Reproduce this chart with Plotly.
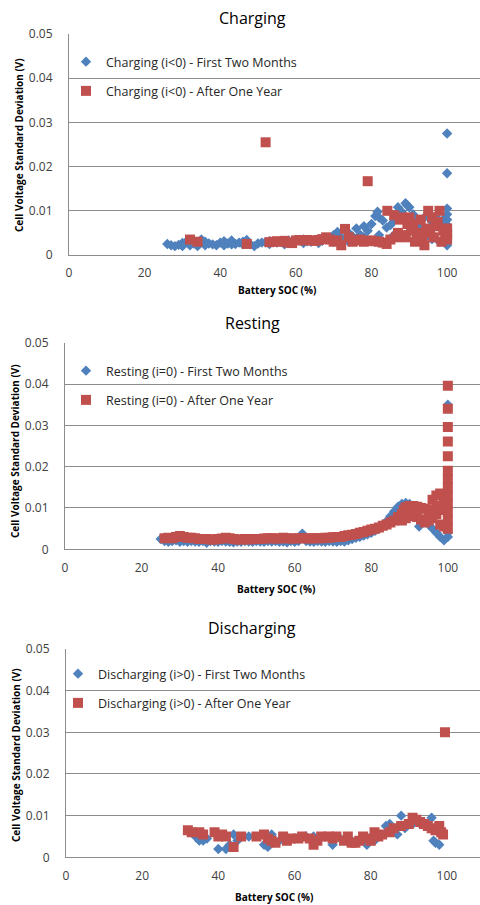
import plotly.graph_objects as go

# ---------------- DATA ----------------
titles = ["Charging", "Resting", "Discharging"]
names_first = ["Charging (i<0) - First Two Months", "Resting (i=0) - First Two Months",
               "Discharging (i>0) - First Two Months"]
names_year = ["Charging (i<0) - After One Year", "Resting (i=0) - After One Year",
              "Discharging (i>0) - After One Year"]
x_title = "Battery SOC (%)"
y_title = "Cell Voltage Standard Deviation (V)"
x_ticks = [0, 20, 40, 60, 80, 100]
y_ticks = [0, 0.01, 0.02, 0.03, 0.04, 0.05]
y_ticklabels = ["0", "0.01", "0.02", "0.03", "0.04", "0.05"]

# Charging - first two months
cb_x = [26, 27, 28, 29, 30, 31, 32, 33, 34, 35, 36, 37, 38, 39, 40, 41, 42, 43, 44, 45, 46, 47, 48,
        49, 50, 51, 52, 53, 54, 55, 56, 57, 58, 59, 60, 61, 62, 63, 64, 65, 66, 67, 68, 69,
        30, 32, 36, 41, 43, 46, 53, 57, 62, 66,
        70, 71, 72, 73, 74, 75, 76, 77, 78, 79, 80, 81, 81.6, 82, 83, 84, 85, 86, 87, 88, 89, 89.5,
        90, 91, 92, 93, 94, 95, 96, 97, 98, 99,
        70, 72, 74, 76, 78, 80, 82, 84, 86, 88, 90, 92, 94, 96, 98,
        100, 100, 100, 100, 100, 100, 100, 100, 100, 100]
cb_y = [0.0025, 0.0022, 0.0020, 0.0023, 0.0027, 0.0030, 0.0022, 0.0026, 0.0020, 0.0035, 0.0030,
        0.0026, 0.0024, 0.0022, 0.0028, 0.0031, 0.0026, 0.0033, 0.0025, 0.0028, 0.0024, 0.0034, 0.0024,
        0.0020, 0.0026, 0.0028, 0.0029, 0.0031, 0.0030, 0.0028, 0.0031, 0.0029, 0.0033, 0.0030, 0.0031,
        0.0034, 0.0035, 0.0031, 0.0030, 0.0033, 0.0034, 0.0032, 0.0036, 0.0038,
        0.0020, 0.0030, 0.0022, 0.0022, 0.0024, 0.0030, 0.0025, 0.0024, 0.0027, 0.0027,
        0.0045, 0.0052, 0.0040, 0.0036, 0.0050, 0.0042, 0.0060, 0.0046, 0.0065, 0.0055, 0.0070, 0.0088,
        0.0098, 0.0085, 0.0078, 0.0062, 0.0068, 0.0080, 0.0108, 0.0098, 0.0117, 0.0112,
        0.0108, 0.0092, 0.0078, 0.0065, 0.0085, 0.0095, 0.0075, 0.0088, 0.0065, 0.0080,
        0.0030, 0.0026, 0.0030, 0.0032, 0.0040, 0.0032, 0.0045, 0.0030, 0.0046, 0.0042, 0.0052, 0.0032,
        0.0040, 0.0036, 0.0030,
        0.0275, 0.0185, 0.0105, 0.0092, 0.0080, 0.0068, 0.0055, 0.0042, 0.0030, 0.0022]

# Charging - after one year
cr_x = [32, 34, 47, 52, 53, 54, 55, 56, 57, 58, 59, 60, 61, 62, 63, 64, 65, 66, 67, 68, 69, 70, 71,
        72, 73, 74, 75, 76, 77, 78, 79, 79.5, 80, 81, 82, 83, 84, 84.2, 85, 86, 86.5, 87, 87.5, 88,
        88.5, 89, 89.5, 90, 90.5, 91, 91.5, 92, 92.5, 93, 93.5, 94, 94.5, 95, 95.5, 96, 96.5, 97,
        97.5, 98, 98.5, 99, 99.5, 100, 100, 100, 100]
cr_y = [0.0035, 0.0030, 0.0025, 0.0255, 0.0029, 0.0030, 0.0031, 0.0030, 0.0032, 0.0028, 0.0027,
        0.0033, 0.0034, 0.0033, 0.0034, 0.0033, 0.0032, 0.0034, 0.0036, 0.0040, 0.0035, 0.0030, 0.0033,
        0.0022, 0.0059, 0.0040, 0.0030, 0.0033, 0.0035, 0.0030, 0.0167, 0.0032, 0.0033, 0.0031, 0.0030,
        0.0028, 0.0025, 0.0100, 0.0035, 0.0090, 0.0040, 0.0050, 0.0080, 0.0085,
        0.0045, 0.0040, 0.0070, 0.0085, 0.0055, 0.0070, 0.0030, 0.0035, 0.0050, 0.0080, 0.0040,
        0.0022, 0.0060, 0.0100, 0.0050, 0.0085, 0.0040, 0.0065,
        0.0075, 0.0100, 0.0030, 0.0055, 0.0045, 0.0060, 0.0045, 0.0035, 0.0050]

# Resting - first two months
rb_x = [25, 26, 27, 28, 29, 30, 31, 32, 33, 34, 35, 36, 37, 38, 39, 40, 41, 42, 43, 44, 45, 46, 47,
        48, 49, 50, 51, 52, 53, 54, 55, 56, 57, 58, 59, 60, 61, 62, 63, 64, 65, 66, 67, 68, 69, 70,
        71, 72, 73, 74, 75, 76, 77, 78, 79, 80, 81, 82, 83, 84, 85, 86, 87, 88, 89, 90, 91, 92, 92.5,
        93, 94, 95, 96, 97, 98, 99, 100, 100, 100]
rb_y = [0.0025, 0.0020, 0.0018, 0.0020, 0.0022, 0.0018, 0.0020, 0.0018, 0.0020, 0.0019, 0.0018,
        0.0020, 0.0016, 0.0020, 0.0019, 0.0018, 0.0020, 0.0019, 0.0018, 0.0017, 0.0019, 0.0018, 0.0020,
        0.0019, 0.0018, 0.0020, 0.0019, 0.0018, 0.0020, 0.0019, 0.0020, 0.0018, 0.0019, 0.0017, 0.0020,
        0.0018, 0.0020, 0.0038, 0.0020, 0.0019, 0.0018, 0.0020, 0.0019, 0.0018, 0.0020, 0.0019,
        0.0018, 0.0020, 0.0019, 0.0022, 0.0025, 0.0028, 0.0030, 0.0033, 0.0036, 0.0040, 0.0045, 0.0050,
        0.0058, 0.0068, 0.0080, 0.0092, 0.0103, 0.0110, 0.0112, 0.0110, 0.0105, 0.0085, 0.0055,
        0.0065, 0.0068, 0.0060, 0.0050, 0.0040, 0.0030, 0.0022, 0.0030, 0.0040, 0.0350]

# Resting - after one year
rr_x = [26, 27, 28, 29, 30, 31, 32, 33, 34, 35, 36, 37, 38, 39, 40, 41, 42, 43, 44, 45, 46, 47, 48,
        49, 50, 51, 52, 53, 54, 55, 56, 57, 58, 59, 60, 61, 62, 63, 64, 65, 66, 67, 68, 69, 70, 71,
        72, 73, 74, 75, 76, 77, 78, 79, 80, 81, 82, 83, 84, 85, 86, 87, 88, 88.5, 89, 90, 91, 92, 93,
        94, 95, 96, 97, 98, 99,
        88, 89, 90, 91, 92, 93, 94, 95, 96, 97, 98, 99, 96, 97, 95, 99, 98,
        100, 100, 100, 100, 100, 100, 100, 100, 100, 100, 100, 100, 100]
rr_y = [0.0027, 0.0028, 0.0027, 0.0030, 0.0032, 0.0030, 0.0028, 0.0028, 0.0027, 0.0025, 0.0025,
        0.0025, 0.0024, 0.0024, 0.0025, 0.0026, 0.0028, 0.0027, 0.0025, 0.0024, 0.0024, 0.0025, 0.0024,
        0.0025, 0.0025, 0.0025, 0.0026, 0.0027, 0.0027, 0.0026, 0.0026, 0.0028, 0.0027, 0.0026, 0.0026,
        0.0027, 0.0027, 0.0027, 0.0026, 0.0027, 0.0027, 0.0027, 0.0028, 0.0028, 0.0029, 0.0030,
        0.0030, 0.0032, 0.0034, 0.0035, 0.0037, 0.0040, 0.0042, 0.0045, 0.0048, 0.0050, 0.0053, 0.0057,
        0.0060, 0.0065, 0.0070, 0.0078, 0.0085, 0.0095, 0.0102, 0.0105, 0.0105, 0.0103, 0.0100,
        0.0098, 0.0095, 0.0120, 0.0130, 0.0135, 0.0125,
        0.0070, 0.0075, 0.0080, 0.0085, 0.0078, 0.0072, 0.0065, 0.0070, 0.0075, 0.0085, 0.0060,
        0.0055, 0.0095, 0.0105, 0.0085, 0.0095, 0.0105,
        0.0050, 0.0070, 0.0090, 0.0110, 0.0130, 0.0150, 0.0170, 0.0190, 0.0225, 0.0261, 0.0296,
        0.0340, 0.0396]

# Discharging - first two months
db_x = [33, 34, 35, 36, 37, 40, 42, 43, 44, 45, 48, 52, 53, 54, 56, 60, 63, 65, 70, 72, 75, 79, 81,
        84, 85, 87, 88, 89, 91, 93, 96, 96.5, 97, 98]
db_y = [0.0060, 0.0050, 0.0040, 0.0040, 0.0045, 0.0020, 0.0020, 0.0030, 0.0055, 0.0040, 0.0050,
        0.0030, 0.0025, 0.0055, 0.0040, 0.0045, 0.0050, 0.0050, 0.0030, 0.0045, 0.0040, 0.0030, 0.0040,
        0.0075, 0.0080, 0.0055, 0.0100, 0.0070, 0.0080, 0.0080, 0.0095, 0.0040, 0.0035, 0.0030]

# Discharging - after one year
dr_x = [32, 33, 35, 36, 39, 40, 41, 42, 44, 46, 50, 52, 53, 54, 55, 57, 58, 59, 61, 62, 64, 65, 66,
        67, 69, 70, 71, 73, 74, 75, 76, 77, 78, 79, 80, 81, 82, 83, 85, 86, 88, 90, 91, 92, 93, 94,
        95, 96, 97, 98, 98.5, 99, 99.5]
dr_y = [0.0065, 0.0060, 0.0060, 0.0055, 0.0060, 0.0050, 0.0055, 0.0050, 0.0025, 0.0050, 0.0050,
        0.0055, 0.0045, 0.0040, 0.0035, 0.0050, 0.0040, 0.0045, 0.0045, 0.0050, 0.0045, 0.0030, 0.0040,
        0.0050, 0.0050, 0.0045, 0.0050, 0.0040, 0.0050, 0.0035, 0.0035, 0.0040, 0.0050, 0.0045, 0.0040,
        0.0060, 0.0050, 0.0055, 0.0060, 0.0070, 0.0075, 0.0080, 0.0095, 0.0090, 0.0085, 0.0080,
        0.0075, 0.0070, 0.0065, 0.0075, 0.0060, 0.0055, 0.0300]

first_series = [(cb_x, cb_y), (rb_x, rb_y), (db_x, db_y)]
year_series = [(cr_x, cr_y), (rr_x, rr_y), (dr_x, dr_y)]

# ---------------- LAYOUT (pixel geometry) ----------------
W, H = 480, 905
FONT = "Open Sans"
BLUE = "#4F81BD"
RED = "#C0504D"
GRID = "#8C8C8C"

panels = [
    dict(left=69, top=34, bottom=255, xmax=108.7, ty=18, xt=(277, 290), yt=(19, 145), lg=(66, 47)),
    dict(left=65, top=342.7, bottom=549.3, xmax=108.4, ty=323, xt=(276, 589), yt=(15, 451), lg=(66, 356)),
    dict(left=66, top=649, bottom=857.3, xmax=108.7, ty=628, xt=(274, 897), yt=(16, 755), lg=(58, 659)),
]

fig = go.Figure()
layout = dict(width=W, height=H, margin=dict(l=0, r=0, t=0, b=0, autoexpand=False),
              paper_bgcolor="white", plot_bgcolor="white",
              font=dict(family=FONT, color="#262626"))
annotations = []

for i, p in enumerate(panels):
    sfx = "" if i == 0 else str(i + 1)
    xa, ya = "x" + sfx, "y" + sfx
    lg = "legend" + sfx
    fx, fy = first_series[i]
    rx, ry = year_series[i]
    fig.add_trace(go.Scatter(x=fx, y=fy, mode="markers", name=names_first[i],
                             xaxis=xa, yaxis=ya, legend=lg, legendgroup="f" + sfx,
                             marker=dict(symbol="diamond", size=8, color=BLUE, line=dict(width=0))))
    fig.add_trace(go.Scatter(x=rx, y=ry, mode="markers", name=names_year[i],
                             xaxis=xa, yaxis=ya, legend=lg, legendgroup="r" + sfx,
                             marker=dict(symbol="square", size=10, color=RED, line=dict(width=0))))
    layout["xaxis" + sfx] = dict(
        domain=[p["left"] / W, 1.0], range=[0, p["xmax"]], anchor=ya, automargin=False,
        tickvals=x_ticks, showgrid=False, zeroline=False, showline=True,
        linecolor=GRID, linewidth=1, ticks="", ticklabelstandoff=7,
        tickfont=dict(family=FONT, size=12, color="#404040"))
    layout["yaxis" + sfx] = dict(
        domain=[1 - p["bottom"] / H, 1 - p["top"] / H], range=[0, 0.05], anchor=xa, automargin=False,
        tickvals=y_ticks, ticktext=y_ticklabels, showgrid=True, gridcolor=GRID, gridwidth=1,
        zeroline=False, showline=True, linecolor=GRID, linewidth=1, ticks="",
        ticklabelstandoff=13, tickfont=dict(family=FONT, size=12, color="#404040"))
    layout[lg] = dict(x=p["lg"][0] / W, y=1 - p["lg"][1] / H, xanchor="left", yanchor="top",
                      bgcolor="rgba(0,0,0,0)", borderwidth=0, traceorder="grouped",
                      tracegroupgap=10, font=dict(family=FONT, size=12.5, color="#262626"))
    annotations.append(dict(text=titles[i], x=252 / W, y=1 - p["ty"] / H, xref="paper", yref="paper",
                            xanchor="center", yanchor="middle", showarrow=False,
                            font=dict(family=FONT, size=16, color="#000000")))
    annotations.append(dict(text="<b>" + x_title + "</b>", x=p["xt"][0] / W, y=1 - p["xt"][1] / H,
                            xref="paper", yref="paper", xanchor="center", yanchor="middle",
                            showarrow=False, font=dict(family=FONT, size=10, color="#000000")))
    annotations.append(dict(text="<b>" + y_title + "</b>", x=p["yt"][0] / W, y=1 - p["yt"][1] / H,
                            xref="paper", yref="paper", xanchor="center", yanchor="middle",
                            textangle=-90, showarrow=False,
                            font=dict(family=FONT, size=10, color="#000000")))

layout["annotations"] = annotations
layout["showlegend"] = True
fig.update_layout(**layout)
fig.write_html("out.html", config={"displayModeBar": False},
               post_script="document.body.style.margin='0';document.body.style.padding='0';"
                           "document.documentElement.style.overflow='hidden';")
